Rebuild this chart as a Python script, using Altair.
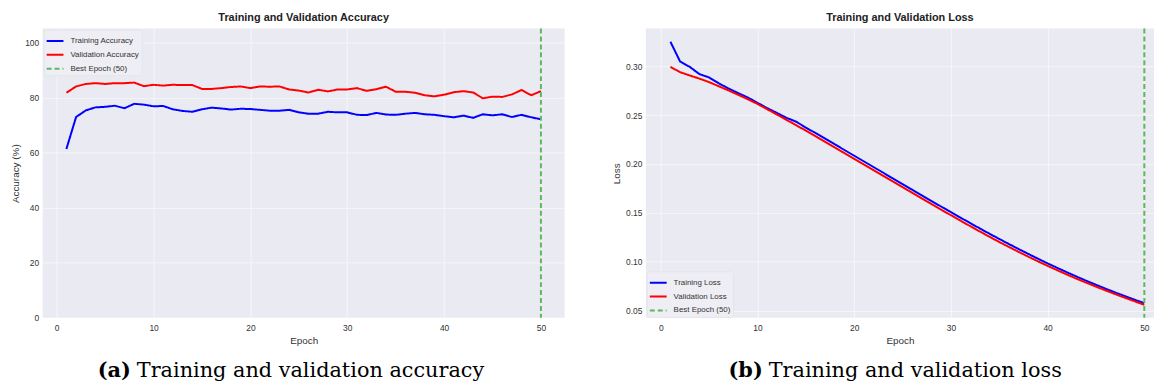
import altair as alt
import pandas as pd

epochs = list(range(1, 51))

train_acc = [61.3, 72.9, 75.3, 76.4, 76.6, 77.0, 76.1, 77.7, 77.4, 76.8,
             76.9, 75.7, 75.1, 74.8, 75.7, 76.3, 76.0, 75.6, 75.9, 75.8,
             75.5, 75.2, 75.2, 75.5, 74.6, 74.1, 74.1, 74.8, 74.6, 74.6,
             73.7, 73.6, 74.4, 73.8, 73.7, 74.1, 74.4, 73.9, 73.7, 73.2,
             72.8, 73.4, 72.6, 73.9, 73.5, 73.9, 72.9, 73.7, 72.8, 72.1]
val_acc = [81.7, 84.0, 84.9, 85.2, 84.9, 85.2, 85.2, 85.4, 84.1, 84.6,
           84.3, 84.6, 84.5, 84.5, 83.1, 83.1, 83.4, 83.8, 84.0, 83.4,
           84.0, 83.9, 84.0, 82.9, 82.5, 81.8, 82.8, 82.2, 82.9, 82.9,
           83.4, 82.4, 83.0, 83.9, 82.1, 82.1, 81.7, 80.8, 80.4, 81.0,
           81.9, 82.3, 81.8, 79.7, 80.3, 80.2, 81.1, 82.7, 80.8, 82.3]
train_loss = [0.3250, 0.3048, 0.2993, 0.2919, 0.2885, 0.2825, 0.2772, 0.2725, 0.2680, 0.2625,
              0.2572, 0.2522, 0.2472, 0.2432, 0.2372, 0.2316, 0.2258, 0.2200, 0.2142, 0.2084,
              0.2026, 0.1968, 0.1910, 0.1852, 0.1794, 0.1736, 0.1678, 0.1620, 0.1563, 0.1506,
              0.1450, 0.1394, 0.1339, 0.1285, 0.1232, 0.1180, 0.1129, 0.1079, 0.1030, 0.0982,
              0.0936, 0.0891, 0.0847, 0.0804, 0.0763, 0.0723, 0.0684, 0.0647, 0.0610, 0.0575]
val_loss = [0.2993, 0.2939, 0.2905, 0.2873, 0.2837, 0.2795, 0.2752, 0.2708, 0.2662, 0.2614,
            0.2560, 0.2506, 0.2451, 0.2396, 0.2341, 0.2284, 0.2226, 0.2168, 0.2110, 0.2052,
            0.1994, 0.1936, 0.1878, 0.1820, 0.1762, 0.1704, 0.1646, 0.1589, 0.1532, 0.1475,
            0.1419, 0.1363, 0.1308, 0.1254, 0.1201, 0.1150, 0.1100, 0.1051, 0.1003, 0.0957,
            0.0912, 0.0868, 0.0825, 0.0784, 0.0744, 0.0705, 0.0667, 0.0630, 0.0594, 0.0558]

best_epoch = [50]
acc_series = ["Training Accuracy", "Validation Accuracy", "Best Epoch (50)"]
loss_series = ["Training Loss", "Validation Loss", "Best Epoch (50)"]
series_colors = ["#0000ff", "#ff0000", "#5cb85c"]
series_dash = [[1, 0], [1, 0], [5, 3]]
series_width = [2, 2, 1.2]

x_ticks = [0, 10, 20, 30, 40, 50]
acc_ticks = [0, 20, 40, 60, 80, 100]
loss_ticks = [0.05, 0.10, 0.15, 0.20, 0.25, 0.30]

titles = ["Training and Validation Accuracy", "Training and Validation Loss"]
cap_tags = ["(a)", "(b)"]
cap_texts = ["Training and validation accuracy", "Training and validation loss"]

FONT = "Liberation Sans"
SERIF = "DejaVu Serif"


def panel(train, val, series, ylabel, ydomain, yticks, yfmt, xdomain, w, h,
          legend_orient, title, tag, text, tag_x, cap_y):
    df = pd.DataFrame({
        "epoch": epochs * 2,
        "value": train + val,
        "series": [series[0]] * len(epochs) + [series[1]] * len(epochs),
    })
    best = pd.DataFrame({"epoch": best_epoch, "series": [series[2]]})
    color = alt.Color("series:N", title=None,
                      scale=alt.Scale(domain=series, range=series_colors),
                      legend=alt.Legend(orient=legend_orient, symbolType="stroke",
                                        symbolSize=289, labelFontSize=8, labelFont=FONT,
                                        labelColor="#333", labelOffset=6, rowPadding=-7,
                                        padding=2, offset=1, fillColor="#eeeef4",
                                        cornerRadius=3, strokeColor="#e4e4ec"))
    dash = alt.StrokeDash("series:N", title=None,
                          scale=alt.Scale(domain=series, range=series_dash))
    swidth = alt.StrokeWidth("series:N", title=None,
                             scale=alt.Scale(domain=series, range=series_width))
    x = alt.X("epoch:Q", scale=alt.Scale(domain=xdomain, nice=False, zero=False),
              axis=alt.Axis(values=x_ticks, title="Epoch", labelPadding=6, titlePadding=3))
    lines = alt.Chart(df).mark_line(clip=True).encode(
        x=x,
        y=alt.Y("value:Q", scale=alt.Scale(domain=ydomain, nice=False, zero=False),
                axis=alt.Axis(values=yticks, format=yfmt, title=ylabel,
                              labelPadding=4, titlePadding=4)),
        color=color, strokeDash=dash, strokeWidth=swidth,
    )
    rule = alt.Chart(best).mark_rule().encode(
        x=alt.X("epoch:Q"), color=color, strokeDash=dash, strokeWidth=swidth,
    )
    capdf = pd.DataFrame({"tag": [tag], "text": [text]})
    cap_a = alt.Chart(capdf).mark_text(align="right", baseline="middle", font=SERIF,
                                       fontSize=21, fontWeight="bold", color="#000").encode(
        text="tag:N", x=alt.value(tag_x), y=alt.value(cap_y))
    cap_b = alt.Chart(capdf).mark_text(align="left", baseline="middle", font=SERIF,
                                       fontSize=21, color="#000").encode(
        text="text:N", x=alt.value(tag_x + 6), y=alt.value(cap_y))
    return alt.layer(lines, rule, cap_a, cap_b).properties(
        width=w, height=h,
        title=alt.TitleParams(title, offset=5),
    )


left = panel(train_acc, val_acc, acc_series, "Accuracy (%)", [0, 105], acc_ticks, "d",
             [-1.45, 52.45], 527, 292, "top-left", titles[0], cap_tags[0], cap_texts[0],
             89, 346)
right = panel(train_loss, val_loss, loss_series, "Loss", [0.0425, 0.3385], loss_ticks, ".2f",
              [-1.54, 51.0], 513, 292, "bottom-left", titles[1], cap_tags[1], cap_texts[1],
              118, 346)

chart = alt.hconcat(left, right, spacing=47).resolve_scale(
    color="independent", strokeDash="independent", strokeWidth="independent", x="independent", y="independent"
).configure(
    padding={"left": 2, "top": 2, "right": 0, "bottom": 0},
    background="white",
).configure_view(
    fill="#eaeaf2", strokeWidth=0,
).configure_axis(
    grid=True, gridColor="#ffffff", gridWidth=1, gridOpacity=0.55,
    domain=False, ticks=False,
    labelFont=FONT, labelFontSize=8.5, labelColor="#333333",
    titleFont=FONT, titleFontSize=10, titleFontWeight="normal", titleColor="#333333",
).configure_title(
    font=FONT, fontSize=11, fontWeight="bold", color="#222222", anchor="middle",
)

chart.save("out.html", embed_options={"renderer": "svg", "actions": False})
